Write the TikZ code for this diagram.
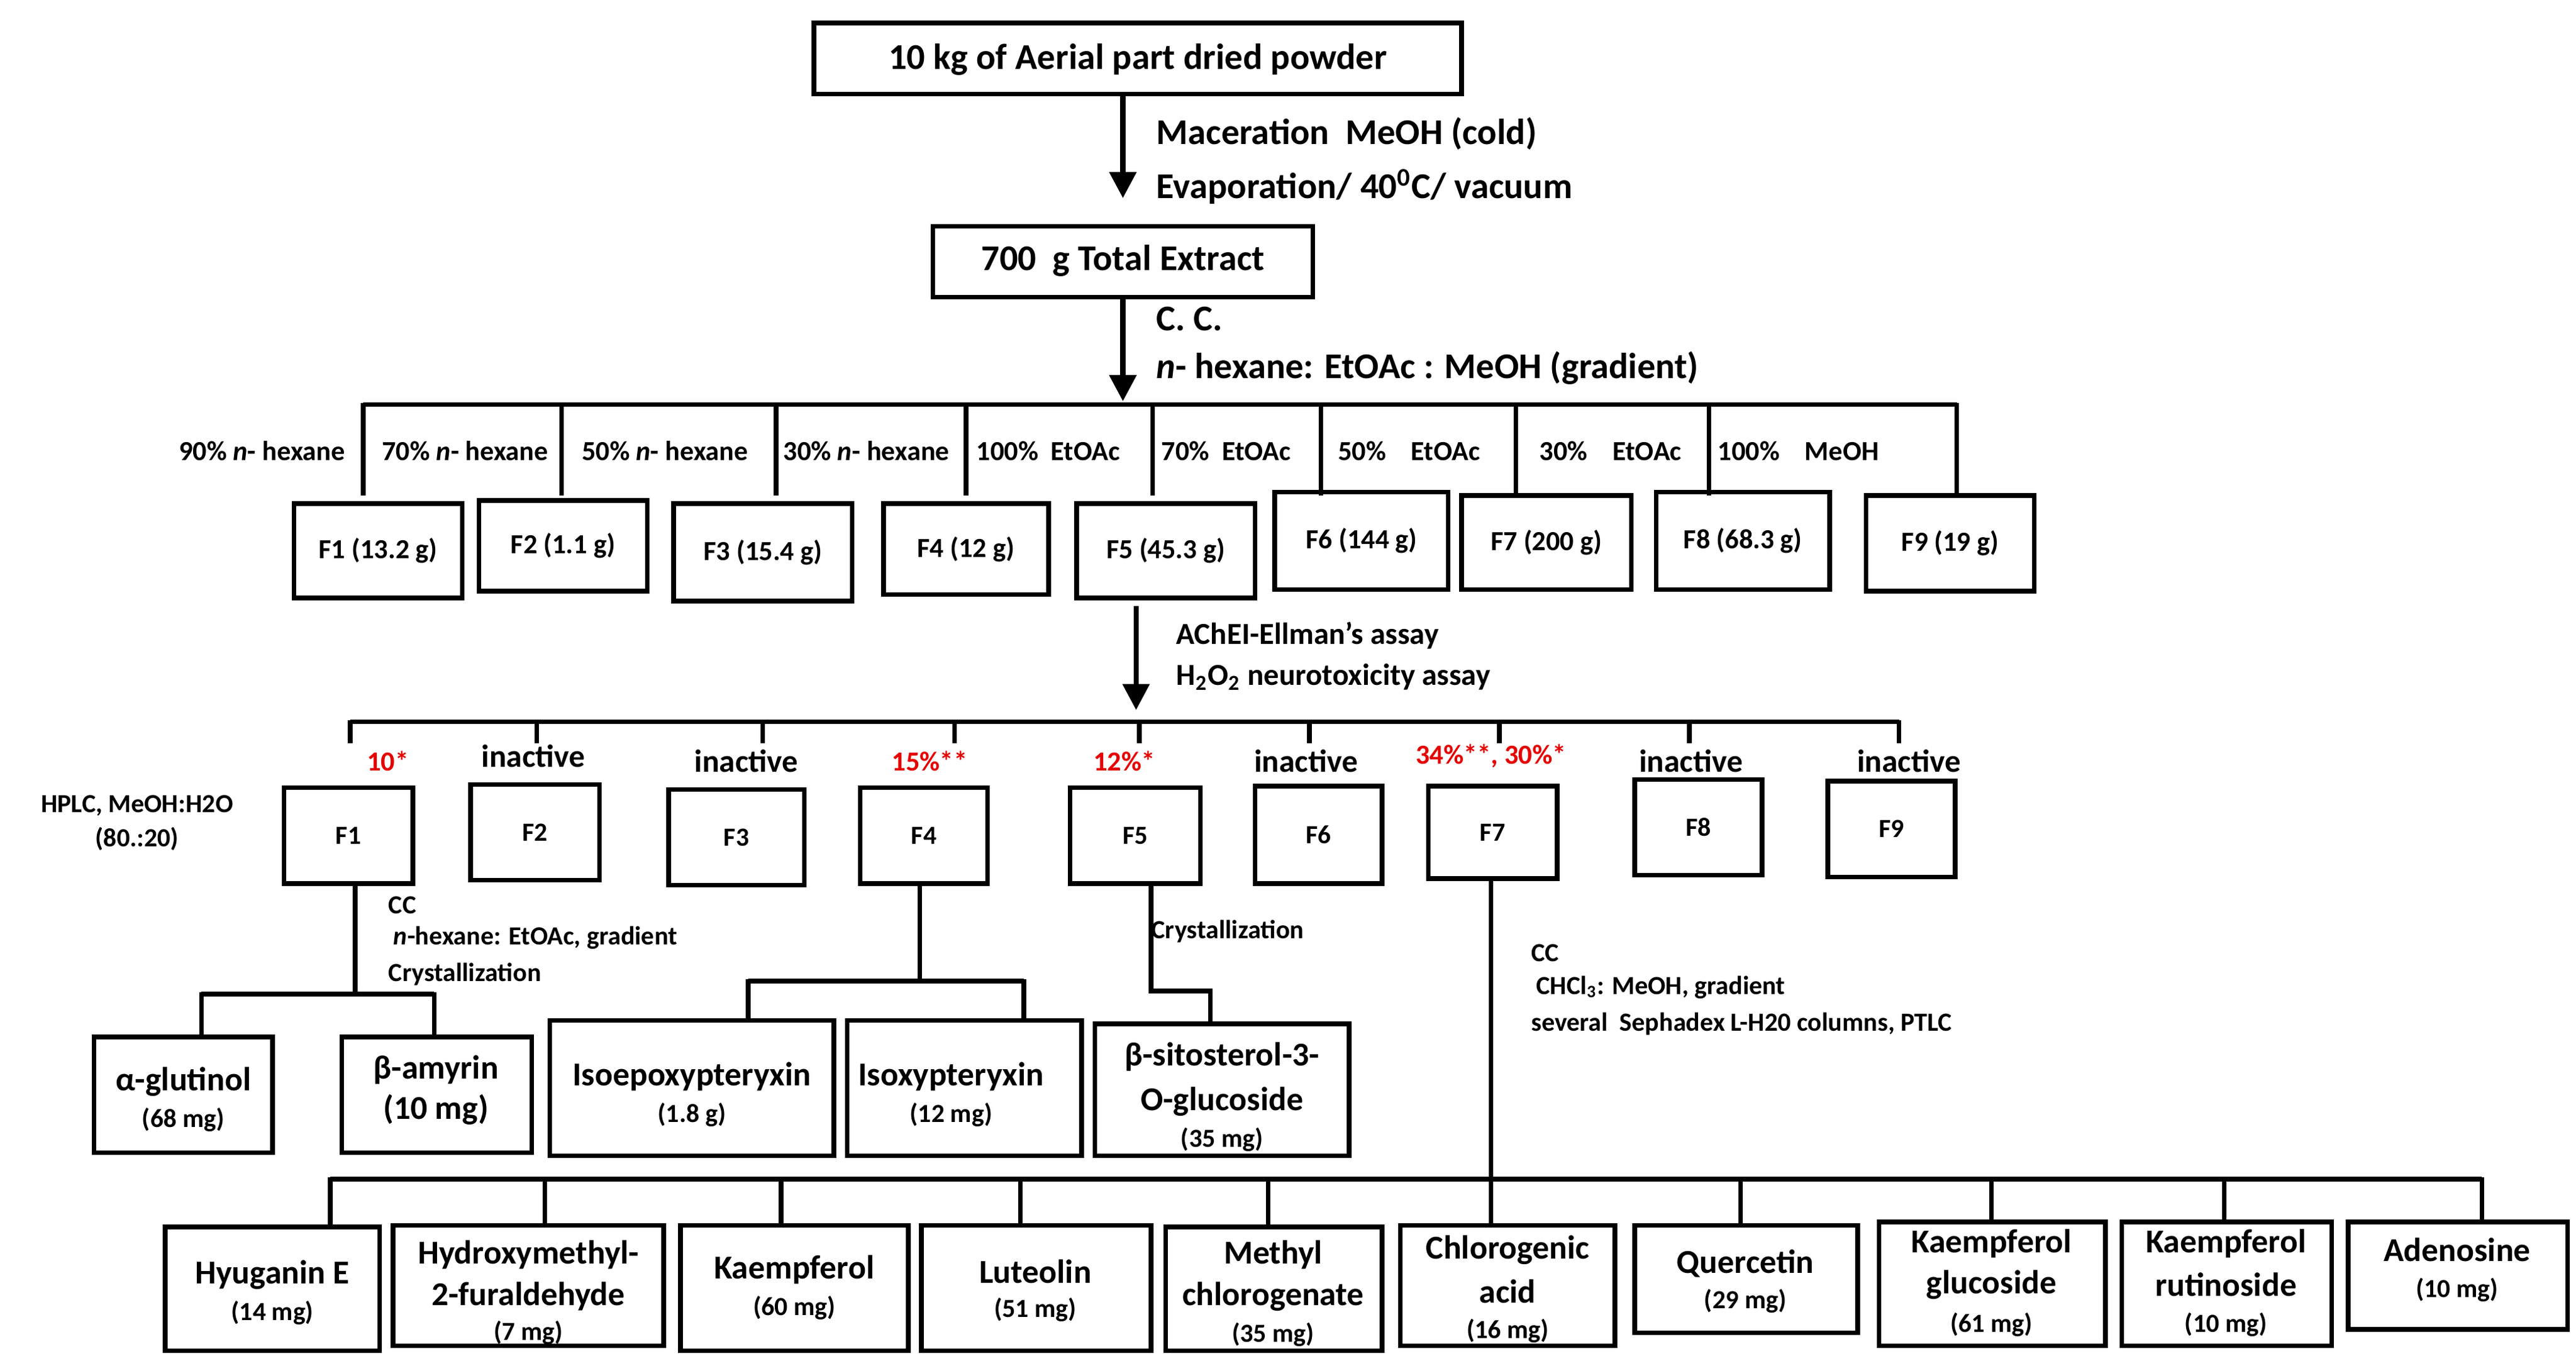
\documentclass[tikz,border=0pt]{standalone}
\usepackage{fontspec}
\setmainfont{Carlito}
\usetikzlibrary{arrows.meta}
\newcommand\bx[5]{\node[box,minimum width={(#4-#2)*0.02cm},minimum height={(#5-#3)*0.02cm}] (#1) at ({(#2+#4)/2},{(#3+#5)/2}) {};}
\newcommand\fs[1]{\fontsize{#1}{#1}\selectfont\bfseries}
\begin{document}
\begin{tikzpicture}[x=0.02cm,y=-0.02cm,
  box/.style={draw,line width=1.6pt,inner sep=0pt},
  ln/.style={line width=1.6pt},
  arr/.style={line width=1.8pt,-{Triangle[length=9pt,width=9pt]}},
  t/.style={inner sep=0pt,font=\fs{9}},
  tl/.style={t,anchor=west},
  red/.style={text=red!90!black}]
\useasboundingbox (0,0) rectangle (1560,827);
% top
\bx{A}{493}{14}{885}{57}
\node[t,font=\fs{12.5}] (At) at (689,36) {10 kg of Aerial part dried powder};
\coordinate (a1) at (680,120);
\draw[arr] (680,57) -- (a1);
\node[tl,font=\fs{12.5}] (m1) at (700,81) {Maceration\ \ MeOH (cold)};
\node[tl,font=\fs{12.5}] (m2) at (700,113) {Evaporation/ 40\textsuperscript{0}C/ vacuum};
\bx{B}{565}{137}{795}{180}
\node[t,font=\fs{12.5}] (Bt) at (680,158) {700\ \ g Total Extract};
\coordinate (b1) at (680,243);
\draw[arr] (680,180) -- (b1);
\node[tl,font=\fs{12.5}] (c1) at (700,193) {C. C.};
\node[tl,font=\fs{12.5}] (c2) at (700,223) {\textit{n}- hexane: EtOAc : MeOH (gradient)};
% fraction bar
\draw[ln] (220,245) -- (1185,245);
\foreach \x in {220,340,470,585,698,800,918,1035,1185} \draw[ln] (\x,244) -- (\x,300);
\foreach \x/\s in {108/90\% \textit{n}- hexane,231/70\% \textit{n}- hexane,352/50\% \textit{n}- hexane,474/30\% \textit{n}- hexane,591/100\%\ \ EtOAc,703/70\%\ \ EtOAc,810/50\%\ \ \ \ EtOAc,932/30\%\ \ \ \ EtOAc,1040/100\%\ \ \ \ MeOH}
  \node[tl,font=\fs{9.5}] at (\x,273) {\s};
\bx{F1}{178}{305}{280}{362}\node[t,font=\fs{9.5}] at (F1) {F1 (13.2 g)};
\bx{F2}{290}{303}{392}{358}\node[t,font=\fs{9.5}] at (F2) {F2 (1.1 g)};
\bx{F3}{408}{305}{516}{364}\node[t,font=\fs{9.5}] at (F3) {F3 (15.4 g)};
\bx{F4}{535}{305}{635}{360}\node[t,font=\fs{9.5}] at (F4) {F4 (12 g)};
\bx{F5}{652}{305}{760}{362}\node[t,font=\fs{9.5}] at (F5) {F5 (45.3 g)};
\bx{F6}{772}{298}{877}{357}\node[t,font=\fs{9.5}] at (F6) {F6 (144 g)};
\bx{F7}{885}{300}{988}{357}\node[t,font=\fs{9.5}] at (F7) {F7 (200 g)};
\bx{F8}{1003}{298}{1108}{357}\node[t,font=\fs{9.5}] at (F8) {F8 (68.3 g)};
\bx{F9}{1130}{300}{1232}{358}\node[t,font=\fs{9.5}] at (F9) {F9 (19 g)};
% assay
\coordinate (d1) at (688,430);
\draw[arr] (688,367) -- (d1);
\node[tl,font=\fs{10.5}] at (712,385) {AChEI-Ellman’s assay};
\node[tl,font=\fs{10.5}] at (712,410) {H\textsubscript{2}O\textsubscript{2} neurotoxicity assay};
\draw[ln] (212,437) -- (1150,437);
\foreach \x in {212,325,462,578,690,793,908,1023,1150} \draw[ln] (\x,436) -- (\x,450);
\node[t,red,font=\fs{9.5}] at (235,461) {10*};
\node[t,font=\fs{11}] at (323,458) {inactive};
\node[t,font=\fs{11}] at (452,461) {inactive};
\node[t,red,font=\fs{9.5}] at (563,461) {15\%**};
\node[t,red,font=\fs{9.5}] at (681,461) {12\%*};
\node[t,font=\fs{11}] at (791,461) {inactive};
\node[t,red,font=\fs{9.5}] at (903,458) {34\%**, 30\%*};
\node[t,font=\fs{11}] at (1024,461) {inactive};
\node[t,font=\fs{11}] at (1156,461) {inactive};
\node[t] at (83,488) {HPLC, MeOH:H2O};
\node[t] at (83,508) {(80.:20)};
\bx{G1}{172}{477}{250}{535}\node[t] at (G1) {F1};
\bx{G2}{285}{475}{363}{533}\node[t] at (G2) {F2};
\bx{G3}{405}{478}{487}{536}\node[t] at (G3) {F3};
\bx{G4}{521}{477}{598}{535}\node[t] at (G4) {F4};
\bx{G5}{648}{477}{727}{535}\node[t] at (G5) {F5};
\bx{G6}{760}{476}{837}{535}\node[t] at (G6) {F6};
\bx{G7}{865}{476}{943}{532}\node[t] at (G7) {F7};
\bx{G8}{990}{472}{1067}{530}\node[t] at (G8) {F8};
\bx{G9}{1107}{473}{1184}{531}\node[t] at (G9) {F9};
% F1 branch
\bx{H1}{57}{628}{165}{698}
\node[t,font=\fs{11.5}] at (111,655) {α-glutinol};
\node[t] at (111,678) {(68 mg)};
\bx{H2}{207}{628}{322}{698}
\node[t,font=\fs{11.5}] at (264,648) {β-amyrin};
\node[t,font=\fs{11.5}] at (264,672) {(10 mg)};
\draw[ln] (G1.south -| 215,0) -- (215,602);
\draw[ln] (122,602) -- (263,602);
\draw[ln] (122,601) -- (H1.north -| 122,0);
\draw[ln] (263,601) -- (H2.north -| 263,0);
\node[tl] at (235,548) {CC};
\node[tl] at (238,568) {\textit{n}-hexane: EtOAc, gradient};
\node[tl] at (235,590) {Crystallization};
% F4 branch
\bx{H3}{333}{618}{505}{700}
\node[t,font=\fs{11.5}] at (419,652) {Isoepoxypteryxin};
\node[t] at (419,675) {(1.8 g)};
\bx{H4}{513}{618}{655}{700}
\node[t,font=\fs{11.5}] at (576,652) {Isoxypteryxin};
\node[t] at (576,675) {(12 mg)};
\draw[ln] (557,535) -- (557,594);
\draw[ln] (453,594) -- (620,594);
\draw[ln] (453,593) -- (H3.north -| 453,0);
\draw[ln] (620,593) -- (H4.north -| 620,0);
% F5 branch
\bx{H5}{663}{620}{817}{700}
\node[t,font=\fs{11.5}] at (740,640) {β-sitosterol-3-};
\node[t,font=\fs{11.5}] at (740,667) {O-glucoside};
\node[t] at (740,690) {(35 mg)};
\draw[ln] (697,535) -- (697,600) -- (733,600) -- (H5.north -| 733,0);
\node[tl] at (697,564) {Crystallization};
% F7 branch
\draw[ln] (903,532) -- (903,714);
\node[tl] at (927,577) {CC};
\node[tl] at (930,598) {CHCl\textsubscript{3}: MeOH, gradient};
\node[tl] at (927,620) {several\ \ Sephadex L-H20 columns, PTLC};
\draw[ln] (200,714) -- (1503,714);
\bx{K1}{100}{743}{230}{818}
\bx{K2}{238}{742}{402}{815}
\bx{K3}{412}{742}{550}{818}
\bx{K4}{558}{742}{697}{818}
\bx{K5}{706}{743}{837}{818}
\bx{K6}{848}{742}{978}{815}
\bx{K7}{990}{742}{1125}{807}
\bx{K8}{1138}{740}{1275}{815}
\bx{K9}{1285}{740}{1412}{815}
\bx{K10}{1422}{740}{1555}{805}
\foreach \x/\k in {200/K1,330/K2,473/K3,618/K4,768/K5,903/K6,1054/K7,1206/K8,1347/K9,1503/K10}
  \draw[ln] (\x,713) -- (\k.north -| \x,0);
\tikzset{b/.style={t,font=\fs{11.5}}}
\node[b] at (165,772) {Hyuganin E}; \node[t] at (165,795) {(14 mg)};
\node[b] at (320,760) {Hydroxymethyl-}; \node[b] at (320,785) {2-furaldehyde}; \node[t] at (320,807) {(7 mg)};
\node[b] at (481,769) {Kaempferol}; \node[t] at (481,792) {(60 mg)};
\node[b] at (627,770) {Luteolin}; \node[t] at (627,793) {(51 mg)};
\node[b] at (771,760) {Methyl}; \node[b] at (771,785) {chlorogenate}; \node[t] at (771,808) {(35 mg)};
\node[b] at (913,757) {Chlorogenic}; \node[b] at (913,782) {acid}; \node[t] at (913,806) {(16 mg)};
\node[b] at (1057,765) {Quercetin}; \node[t] at (1057,788) {(29 mg)};
\node[b] at (1206,753) {Kaempferol}; \node[b] at (1206,778) {glucoside}; \node[t] at (1206,802) {(61 mg)};
\node[b] at (1348,753) {Kaempferol}; \node[b] at (1348,778) {rutinoside}; \node[t] at (1348,802) {(10 mg)};
\node[b] at (1488,757) {Adenosine}; \node[t] at (1488,781) {(10 mg)};
\end{tikzpicture}
\end{document}
